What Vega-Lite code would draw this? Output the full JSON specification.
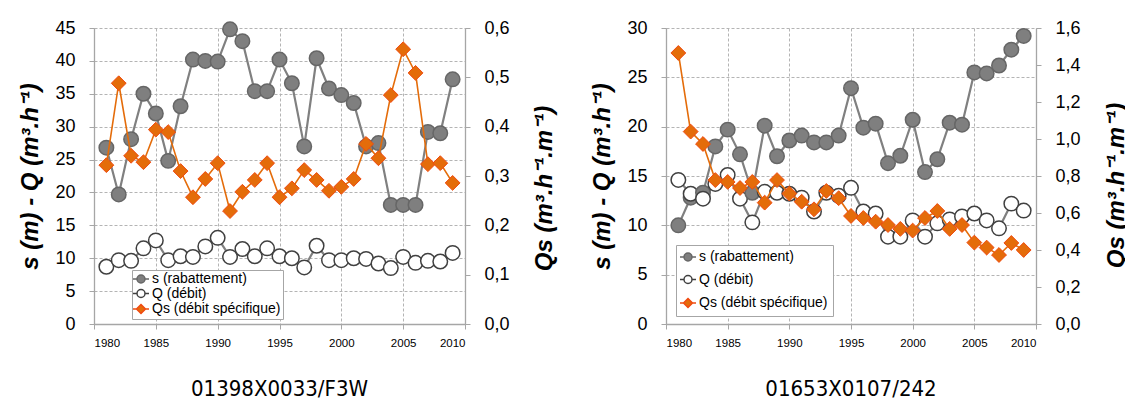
{
  "$schema": "https://vega.github.io/schema/vega-lite/v6.json",
  "background": "white",
  "padding": {"left": 18, "top": 19, "right": 0, "bottom": 0},
  "config": {
    "view": {"stroke": null},
    "font": "Liberation Sans",
    "axis": {
      "labelFont": "Liberation Sans", "labelColor": "#000000", "titleColor": "#000000",
      "domainColor": "#a6a6a6", "domainWidth": 1.3, "tickColor": "#a6a6a6", "tickSize": 5,
      "gridColor": "#b4b4b4", "gridDash": [3, 2], "gridWidth": 1,
      "titleFont": "Liberation Sans", "titleFontWeight": "bold", "titleFontStyle": "italic", "titleFontSize": 24
    },
    "legend": {
      "labelFont": "Liberation Sans", "labelFontSize": 14, "labelColor": "#000000",
      "strokeColor": "#a6a6a6", "fillColor": "#ffffff", "cornerRadius": 0,
      "symbolStrokeWidth": 1.5, "labelOffset": 4, "symbolSize": 100
    },
    "title": {"font": "DejaVu Sans Condensed, Liberation Sans", "fontSize": 22, "fontWeight": "normal", "color": "#000000"}
  },
  "datasets": {
    "f3w": [
      {"year": 1981, "s": 26.8, "Q": 8.7, "Qs": 0.322},
      {"year": 1982, "s": 19.7, "Q": 9.7, "Qs": 0.488},
      {"year": 1983, "s": 28.1, "Q": 9.6, "Qs": 0.341},
      {"year": 1984, "s": 35.0, "Q": 11.5, "Qs": 0.328},
      {"year": 1985, "s": 32.0, "Q": 12.7, "Qs": 0.394},
      {"year": 1986, "s": 24.8, "Q": 9.7, "Qs": 0.389},
      {"year": 1987, "s": 33.1, "Q": 10.3, "Qs": 0.310},
      {"year": 1988, "s": 40.2, "Q": 10.2, "Qs": 0.257},
      {"year": 1989, "s": 40.0, "Q": 11.8, "Qs": 0.294},
      {"year": 1990, "s": 39.9, "Q": 13.1, "Qs": 0.326},
      {"year": 1991, "s": 44.8, "Q": 10.2, "Qs": 0.229},
      {"year": 1992, "s": 43.0, "Q": 11.4, "Qs": 0.268},
      {"year": 1993, "s": 35.4, "Q": 10.3, "Qs": 0.292},
      {"year": 1994, "s": 35.4, "Q": 11.5, "Qs": 0.326},
      {"year": 1995, "s": 40.2, "Q": 10.3, "Qs": 0.257},
      {"year": 1996, "s": 36.6, "Q": 10.0, "Qs": 0.275},
      {"year": 1997, "s": 27.0, "Q": 8.6, "Qs": 0.312},
      {"year": 1998, "s": 40.4, "Q": 11.9, "Qs": 0.292},
      {"year": 1999, "s": 35.8, "Q": 9.7, "Qs": 0.270},
      {"year": 2000, "s": 34.8, "Q": 9.7, "Qs": 0.278},
      {"year": 2001, "s": 33.6, "Q": 10.0, "Qs": 0.294},
      {"year": 2002, "s": 27.0, "Q": 9.9, "Qs": 0.365},
      {"year": 2003, "s": 27.5, "Q": 9.2, "Qs": 0.336},
      {"year": 2004, "s": 18.1, "Q": 8.5, "Qs": 0.464},
      {"year": 2005, "s": 18.1, "Q": 10.2, "Qs": 0.557},
      {"year": 2006, "s": 18.1, "Q": 9.3, "Qs": 0.509},
      {"year": 2007, "s": 29.2, "Q": 9.6, "Qs": 0.324},
      {"year": 2008, "s": 29.0, "Q": 9.5, "Qs": 0.326},
      {"year": 2009, "s": 37.2, "Q": 10.8, "Qs": 0.286}
    ],
    "f242": [
      {"year": 1981, "s": 10.0, "Q": 14.6, "Qs": 1.465},
      {"year": 1982, "s": 12.8, "Q": 13.2, "Qs": 1.04},
      {"year": 1983, "s": 13.3, "Q": 12.7, "Qs": 0.973},
      {"year": 1984, "s": 18.0, "Q": 14.2, "Qs": 0.778},
      {"year": 1985, "s": 19.7, "Q": 15.1, "Qs": 0.768},
      {"year": 1986, "s": 17.2, "Q": 12.7, "Qs": 0.735},
      {"year": 1987, "s": 13.3, "Q": 10.3, "Qs": 0.768},
      {"year": 1988, "s": 20.1, "Q": 13.4, "Qs": 0.656},
      {"year": 1989, "s": 17.0, "Q": 13.3, "Qs": 0.778},
      {"year": 1990, "s": 18.6, "Q": 13.2, "Qs": 0.705},
      {"year": 1991, "s": 19.1, "Q": 12.8, "Qs": 0.661},
      {"year": 1992, "s": 18.4, "Q": 11.4, "Qs": 0.62},
      {"year": 1993, "s": 18.4, "Q": 13.3, "Qs": 0.719},
      {"year": 1994, "s": 19.1, "Q": 13.0, "Qs": 0.68},
      {"year": 1995, "s": 23.9, "Q": 13.8, "Qs": 0.584},
      {"year": 1996, "s": 19.9, "Q": 11.4, "Qs": 0.573},
      {"year": 1997, "s": 20.3, "Q": 11.2, "Qs": 0.553},
      {"year": 1998, "s": 16.3, "Q": 8.85, "Qs": 0.535},
      {"year": 1999, "s": 17.05, "Q": 8.85, "Qs": 0.514},
      {"year": 2000, "s": 20.7, "Q": 10.5, "Qs": 0.505},
      {"year": 2001, "s": 15.4, "Q": 8.85, "Qs": 0.573},
      {"year": 2002, "s": 16.7, "Q": 10.2, "Qs": 0.611},
      {"year": 2003, "s": 20.4, "Q": 10.6, "Qs": 0.514},
      {"year": 2004, "s": 20.2, "Q": 10.9, "Qs": 0.535},
      {"year": 2005, "s": 25.5, "Q": 11.2, "Qs": 0.44},
      {"year": 2006, "s": 25.4, "Q": 10.5, "Qs": 0.413},
      {"year": 2007, "s": 26.2, "Q": 9.7, "Qs": 0.373},
      {"year": 2008, "s": 27.8, "Q": 12.2, "Qs": 0.438},
      {"year": 2009, "s": 29.2, "Q": 11.5, "Qs": 0.40}
    ]
  },
  "spacing": 33,
  "resolve": {
    "scale": {"x": "independent", "y": "independent", "fill": "independent", "stroke": "independent", "shape": "independent"},
    "legend": {"fill": "independent", "stroke": "independent", "shape": "independent"}
  },
  "hconcat": [
    {
      "width": 371, "height": 296,
      "data": {"name": "f3w"},
      "title": {"text": "01398X0033/F3W", "orient": "bottom", "anchor": "middle", "offset": 30},
      "layer": [
        {
          "transform": [{"fold": ["s", "Q"], "as": ["series", "value"]}],
          "encoding": {
            "x": {"field": "year", "type": "quantitative", "scale": {"domain": [1980, 2010], "nice": false, "zero": false},
                  "axis": {"values": [1980, 1985, 1990, 1995, 2000, 2005, 2010], "format": "d", "title": null, "grid": true, "labelFontSize": 11.5, "labelPadding": 8}},
            "y": {"field": "value", "type": "quantitative", "scale": {"domain": [0, 45], "nice": false},
                  "axis": {"orient": "left", "values": [0, 5, 10, 15, 20, 25, 30, 35, 40, 45], "format": "d", "grid": true, "labelFontSize": 18, "labelPadding": 14, "title": "s (m) - Q (m³.h⁻¹)", "titlePadding": 12}}
          },
          "layer": [
            {"mark": {"type": "line", "stroke": "#808080", "strokeWidth": 2.2}, "encoding": {"detail": {"field": "series"}}},
            {"mark": {"type": "point", "shape": "circle", "filled": true, "opacity": 1, "size": 210, "strokeWidth": 1.5},
             "encoding": {
               "fill": {"field": "series", "type": "nominal", "scale": {"domain": ["s", "Q", "Qs"], "range": ["#7f7f7f", "#ffffff", "#e46c0a"]},
                        "legend": {"title": null, "orient": "none", "legendX": 38, "legendY": 242, "padding": 2, "rowPadding": 0.5, "strokeColor": "#a6a6a6", "fillColor": "#ffffff",
                                   "labelExpr": "datum.label == 's' ? 's (rabattement)' : datum.label == 'Q' ? 'Q (débit)' : 'Qs (débit spécifique)'"}},
               "stroke": {"field": "series", "type": "nominal", "scale": {"domain": ["s", "Q", "Qs"], "range": ["#666666", "#404040", "#f04a10"]},
                        "legend": {"title": null, "orient": "none", "legendX": 38, "legendY": 242, "padding": 2, "rowPadding": 0.5, "strokeColor": "#a6a6a6", "fillColor": "#ffffff",
                                   "labelExpr": "datum.label == 's' ? 's (rabattement)' : datum.label == 'Q' ? 'Q (débit)' : 'Qs (débit spécifique)'"}}
             }}
          ]
        },
        {
          "transform": [{"fold": ["Qs"], "as": ["series", "value"]}],
          "encoding": {
            "x": {"field": "year", "type": "quantitative"},
            "y": {"field": "value", "type": "quantitative", "scale": {"domain": [0, 0.6], "nice": false},
                  "axis": {"orient": "right", "values": [0, 0.1, 0.2, 0.3, 0.4, 0.5, 0.6], "labelExpr": "replace(format(datum.value, '.1f'), '.', ',')", "grid": false, "labelFontSize": 18, "labelPadding": 14, "title": "Qs (m³.h⁻¹.m⁻¹)", "titleAngle": 270, "titleBaseline": "top", "titlePadding": 23, "titleY": 160}}
          },
          "layer": [
            {"mark": {"type": "line", "stroke": "#e46c0a", "strokeWidth": 1.6}},
            {"mark": {"type": "point", "shape": "diamond", "filled": true, "opacity": 1, "size": 220, "strokeWidth": 1},
             "encoding": {
               "fill": {"field": "series", "type": "nominal"},
               "stroke": {"field": "series", "type": "nominal"}
             }}
          ]
        },
        {
          "data": {"values": []},
          "mark": {"type": "point"},
          "encoding": {
            "shape": {"field": "series", "type": "nominal",
                      "scale": {"domain": ["s", "Q", "Qs"], "range": [
                        "M-1.6,0H-0.8M0.8,0H1.6M0.8,0A0.8,0.8,0,1,1,-0.8,0A0.8,0.8,0,1,1,0.8,0Z",
                        "M-1.6,0H-0.8M0.8,0H1.6M0.8,0A0.8,0.8,0,1,1,-0.8,0A0.8,0.8,0,1,1,0.8,0Z",
                        "M-1.6,0H-0.9M0.9,0H1.6M0,-0.9L0.9,0L0,0.9L-0.9,0Z"]},
                      "legend": {"title": null, "orient": "none", "legendX": 38, "legendY": 242, "padding": 2, "rowPadding": 0.5, "strokeColor": "#a6a6a6", "fillColor": "#ffffff",
                                 "labelExpr": "datum.label == 's' ? 's (rabattement)' : datum.label == 'Q' ? 'Q (débit)' : 'Qs (débit spécifique)'"}}
          }
        }
      ],
      "resolve": {"scale": {"y": "independent"}}
    },
    {
      "width": 370, "height": 296,
      "data": {"name": "f242"},
      "title": {"text": "01653X0107/242", "orient": "bottom", "anchor": "middle", "offset": 30},
      "layer": [
        {
          "transform": [{"fold": ["s", "Q"], "as": ["series", "value"]}],
          "encoding": {
            "x": {"field": "year", "type": "quantitative", "scale": {"domain": [1980, 2010], "nice": false, "zero": false},
                  "axis": {"values": [1980, 1985, 1990, 1995, 2000, 2005, 2010], "format": "d", "title": null, "grid": true, "labelFontSize": 11.5, "labelPadding": 8}},
            "y": {"field": "value", "type": "quantitative", "scale": {"domain": [0, 30], "nice": false},
                  "axis": {"orient": "left", "values": [0, 5, 10, 15, 20, 25, 30], "format": "d", "grid": true, "labelFontSize": 18, "labelPadding": 14, "title": "s (m) - Q (m³.h⁻¹)", "titlePadding": 12}}
          },
          "layer": [
            {"mark": {"type": "line", "stroke": "#808080", "strokeWidth": 2.2}, "encoding": {"detail": {"field": "series"}}},
            {"mark": {"type": "point", "shape": "circle", "filled": true, "opacity": 1, "size": 210, "strokeWidth": 1.5},
             "encoding": {
               "fill": {"field": "series", "type": "nominal", "scale": {"domain": ["s", "Q", "Qs"], "range": ["#7f7f7f", "#ffffff", "#e46c0a"]},
                        "legend": {"title": null, "orient": "none", "legendX": 10, "legendY": 217, "padding": 5, "rowPadding": 8.5, "strokeColor": "#a6a6a6", "fillColor": "#ffffff",
                                   "labelExpr": "datum.label == 's' ? 's (rabattement)' : datum.label == 'Q' ? 'Q (débit)' : 'Qs (débit spécifique)'"}},
               "stroke": {"field": "series", "type": "nominal", "scale": {"domain": ["s", "Q", "Qs"], "range": ["#666666", "#404040", "#f04a10"]},
                        "legend": {"title": null, "orient": "none", "legendX": 10, "legendY": 217, "padding": 5, "rowPadding": 8.5, "strokeColor": "#a6a6a6", "fillColor": "#ffffff",
                                   "labelExpr": "datum.label == 's' ? 's (rabattement)' : datum.label == 'Q' ? 'Q (débit)' : 'Qs (débit spécifique)'"}}
             }}
          ]
        },
        {
          "transform": [{"fold": ["Qs"], "as": ["series", "value"]}],
          "encoding": {
            "x": {"field": "year", "type": "quantitative"},
            "y": {"field": "value", "type": "quantitative", "scale": {"domain": [0, 1.6], "nice": false},
                  "axis": {"orient": "right", "values": [0, 0.2, 0.4, 0.6, 0.8, 1.0, 1.2, 1.4, 1.6], "labelExpr": "replace(format(datum.value, '.1f'), '.', ',')", "grid": false, "labelFontSize": 18, "labelPadding": 14, "title": "Qs (m³.h⁻¹.m⁻¹)", "titleAngle": 270, "titleBaseline": "top", "titlePadding": 24, "titleY": 157}}
          },
          "layer": [
            {"mark": {"type": "line", "stroke": "#e46c0a", "strokeWidth": 1.6}},
            {"mark": {"type": "point", "shape": "diamond", "filled": true, "opacity": 1, "size": 220, "strokeWidth": 1},
             "encoding": {
               "fill": {"field": "series", "type": "nominal"},
               "stroke": {"field": "series", "type": "nominal"}
             }}
          ]
        },
        {
          "data": {"values": []},
          "mark": {"type": "point"},
          "encoding": {
            "shape": {"field": "series", "type": "nominal",
                      "scale": {"domain": ["s", "Q", "Qs"], "range": [
                        "M-1.6,0H-0.8M0.8,0H1.6M0.8,0A0.8,0.8,0,1,1,-0.8,0A0.8,0.8,0,1,1,0.8,0Z",
                        "M-1.6,0H-0.8M0.8,0H1.6M0.8,0A0.8,0.8,0,1,1,-0.8,0A0.8,0.8,0,1,1,0.8,0Z",
                        "M-1.6,0H-0.9M0.9,0H1.6M0,-0.9L0.9,0L0,0.9L-0.9,0Z"]},
                      "legend": {"title": null, "orient": "none", "legendX": 10, "legendY": 217, "padding": 5, "rowPadding": 8.5, "strokeColor": "#a6a6a6", "fillColor": "#ffffff",
                                 "labelExpr": "datum.label == 's' ? 's (rabattement)' : datum.label == 'Q' ? 'Q (débit)' : 'Qs (débit spécifique)'"}}
          }
        }
      ],
      "resolve": {"scale": {"y": "independent"}}
    }
  ]
}
